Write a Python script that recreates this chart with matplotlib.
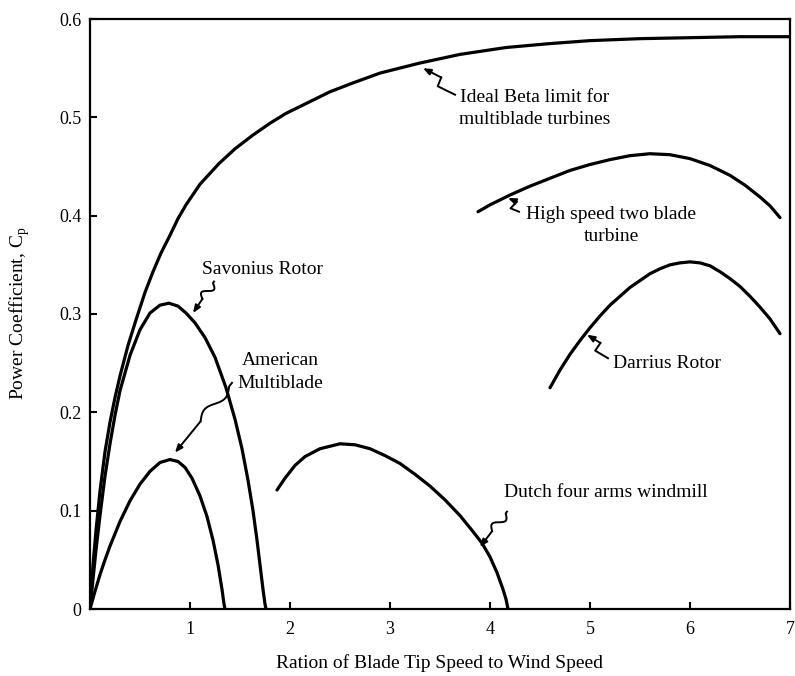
import numpy as np
import matplotlib
matplotlib.use('Agg')
import matplotlib.pyplot as plt

plt.rcParams['font.family'] = ['Liberation Serif', 'DejaVu Serif']
plt.rcParams['mathtext.fontset'] = 'custom'
plt.rcParams['mathtext.rm'] = 'Liberation Serif'

# curves (tip speed ratio, power coefficient)
ideal_x = [0, 0.03, 0.06, 0.1, 0.15, 0.2, 0.25, 0.3, 0.38, 0.46, 0.55, 0.63, 0.71, 0.79, 0.88, 0.96,
           1.1, 1.29, 1.45, 1.63, 1.8, 1.96, 2.2, 2.4, 2.63, 2.9, 3.29, 3.7, 4.16, 4.6, 5.0, 5.5, 6.0, 6.5, 7.0]
ideal_y = [0, 0.045, 0.08, 0.12, 0.16, 0.19, 0.215, 0.237, 0.268, 0.294, 0.322, 0.343, 0.362, 0.378, 0.397, 0.411,
           0.432, 0.453, 0.468, 0.482, 0.494, 0.504, 0.516, 0.526, 0.535, 0.545, 0.555, 0.564, 0.571, 0.575, 0.578,
           0.580, 0.581, 0.582, 0.582]

savon_x = [0, 0.03, 0.06, 0.1, 0.15, 0.2, 0.25, 0.3, 0.4, 0.5, 0.6, 0.7, 0.79, 0.88, 0.96, 1.05, 1.15,
           1.25, 1.36, 1.45, 1.52, 1.58, 1.63, 1.67, 1.70, 1.73, 1.75, 1.76]
savon_y = [0, 0.03, 0.06, 0.095, 0.135, 0.168, 0.197, 0.222, 0.258, 0.284, 0.301, 0.309, 0.311, 0.308, 0.301,
           0.291, 0.276, 0.256, 0.225, 0.193, 0.163, 0.131, 0.10, 0.07, 0.045, 0.02, 0.005, 0]

amer_x = [0, 0.05, 0.1, 0.15, 0.2, 0.3, 0.4, 0.5, 0.6, 0.7, 0.8, 0.88, 0.95, 1.02, 1.1, 1.17, 1.23, 1.28,
          1.32, 1.34, 1.35]
amer_y = [0, 0.018, 0.035, 0.05, 0.064, 0.089, 0.11, 0.127, 0.14, 0.149, 0.152, 0.15, 0.144, 0.133, 0.115,
          0.094, 0.07, 0.045, 0.02, 0.005, 0]

dutch_x = [1.87, 1.95, 2.05, 2.15, 2.3, 2.5, 2.65, 2.8, 2.95, 3.1, 3.25, 3.4, 3.55, 3.7, 3.82, 3.92, 4.0,
           4.07, 4.13, 4.16, 4.18]
dutch_y = [0.121, 0.133, 0.146, 0.155, 0.163, 0.168, 0.167, 0.163, 0.156, 0.148, 0.137, 0.125, 0.111, 0.095,
           0.08, 0.067, 0.053, 0.037, 0.02, 0.01, 0]

high_x = [3.88, 4.0, 4.2, 4.4, 4.6, 4.8, 5.0, 5.2, 5.4, 5.6, 5.8, 6.0, 6.2, 6.4, 6.55, 6.7, 6.8, 6.9]
high_y = [0.404, 0.411, 0.421, 0.43, 0.438, 0.446, 0.452, 0.457, 0.461, 0.463, 0.462, 0.458, 0.451, 0.441,
          0.431, 0.419, 0.41, 0.398]

darr_x = [4.6, 4.7, 4.8, 4.9, 5.0, 5.1, 5.2, 5.3, 5.4, 5.5, 5.6, 5.7, 5.8, 5.9, 6.0, 6.1, 6.2, 6.3, 6.4,
          6.5, 6.6, 6.7, 6.8, 6.9]
darr_y = [0.225, 0.243, 0.259, 0.273, 0.286, 0.298, 0.309, 0.318, 0.327, 0.334, 0.341, 0.346, 0.35, 0.352,
          0.353, 0.352, 0.349, 0.343, 0.336, 0.328, 0.318, 0.307, 0.295, 0.28]

x_ticks = [1, 2, 3, 4, 5, 6, 7]
y_ticks = [0, 0.1, 0.2, 0.3, 0.4, 0.5, 0.6]
y_ticklabels = ['0', '0.1', '0.2', '0.3', '0.4', '0.5', '0.6']

# label text, text centre, leader start, arrow tip, leader kind
labels = [
    ('Ideal Beta limit for\nmultiblade turbines', (4.45, 0.509), (3.65, 0.523), (3.33, 0.550), 'z'),
    ('High speed two blade\nturbine', (5.21, 0.390), (4.29, 0.404), (4.18, 0.418), 'z'),
    ('Savonius Rotor', (1.72, 0.345), (1.24, 0.333), (1.03, 0.301), 's'),
    ('American\nMultiblade', (1.90, 0.241), (1.42, 0.230), (0.85, 0.159), 's'),
    ('Darrius Rotor', (5.77, 0.250), (5.18, 0.255), (4.97, 0.279), 'z'),
    ('Dutch four arms windmill', (5.16, 0.118), (4.17, 0.099), (3.90, 0.063), 's'),
]

fig = plt.figure(figsize=(7.95, 6.76), dpi=100)
ax = fig.add_axes([90 / 795, 1 - 609 / 676, 700 / 795, 590 / 676])
ax.set_xlim(0, 7)
ax.set_ylim(0, 0.6)

for xs, ys in [(ideal_x, ideal_y), (savon_x, savon_y), (amer_x, amer_y),
               (dutch_x, dutch_y), (high_x, high_y), (darr_x, darr_y)]:
    ax.plot(xs, ys, color='black', lw=2.3, solid_capstyle='round', solid_joinstyle='round')

ax.set_xticks(x_ticks)
ax.set_yticks(y_ticks)
ax.set_yticklabels(y_ticklabels)
ax.tick_params(direction='in', length=5, width=1.5, labelsize=13)
ax.tick_params(axis='x', pad=9)
ax.tick_params(axis='y', pad=6)
for s in ax.spines.values():
    s.set_linewidth(1.6)


def squiggle(start, tip, kind, amp=4.5):
    # small hand-drawn leader: wiggle then an arrow to the curve
    p0 = ax.transData.transform(start)
    p1 = ax.transData.transform(tip)
    d = p1 - p0
    L = np.hypot(*d)
    u = d / L
    n = np.array([-u[1], u[0]])
    if kind == 's':
        t = np.linspace(0, 1, 25)
        t0, t1 = 0.05, 0.55
        pts = [p0 + (t0 + (t1 - t0) * k) * L * u + amp * np.sin(2 * np.pi * k) * n for k in t]
        pts = [p0] + pts
    else:
        pts = [p0, p0 + 0.45 * L * u + amp * n, p0 + 0.52 * L * u - amp * n]
    pts = ax.transData.inverted().transform(np.array(pts))
    ax.plot(pts[:, 0], pts[:, 1], color='black', lw=1.4)
    ax.annotate('', xy=tip, xytext=pts[-1],
                arrowprops=dict(arrowstyle='-|>,head_length=0.45,head_width=0.18',
                                color='black', lw=1.4, shrinkA=0, shrinkB=0))


for txt, pos, st, tip, kind in labels:
    ax.text(pos[0], pos[1], txt, ha='center', va='center', fontsize=14, linespacing=1.45)
    squiggle(st, tip, kind)

fig.text(440 / 795, 1 - 663 / 676, 'Ration of Blade Tip Speed to Wind Speed',
         ha='center', va='center', fontsize=14)
fig.text(20 / 795, 1 - 313 / 676, r'Power Coefficient, C$_\mathrm{p}$',
         ha='center', va='center', rotation=90, fontsize=14)

fig.savefig('out.png', dpi=100)
